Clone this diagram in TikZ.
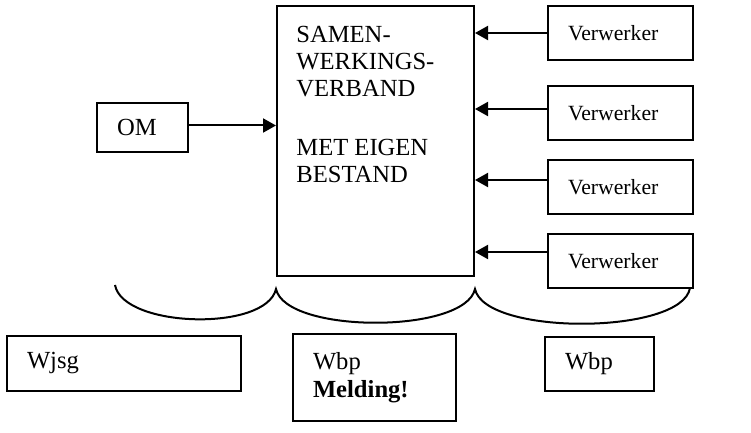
\documentclass[tikz,border=0pt]{standalone}
\usepackage{fontspec}
\setmainfont{Liberation Serif}
\usepackage{tikz}
\usetikzlibrary{arrows.meta,positioning}

\begin{document}
\begin{tikzpicture}[
  font=\fontsize{12.3}{14}\selectfont,
  box/.style={draw, line width=1pt, align=left, inner xsep=10pt, inner ysep=0pt},
  verwerker/.style={box, text width=52.5pt, minimum height=27pt, font=\fontsize{10.85}{13}\selectfont},
  arrow/.style={-{Triangle[length=6.5pt, width=7pt]}, line width=1pt},
  brace/.style={line width=1pt}
]
  \useasboundingbox (0,0) rectangle (375.5pt,-216.5pt);

  \node[box, minimum width=98.5pt, minimum height=135pt, inner xsep=0pt] (samen) at (187.75pt,-70.5pt) {};
  \node[align=left, anchor=north west, inner sep=0pt, font=\fontsize{12.3}{13.5}\selectfont] (samentext)
    at ([xshift=10pt, yshift=-10.5pt]samen.north west)
    {SAMEN-\\WERKINGS-\\VERBAND\\[16pt]MET EIGEN\\BESTAND};

  \node[box, text width=25.5pt, minimum height=24.5pt] (om) at (71.25pt,-63.75pt) {OM};

  \node[verwerker, below right=0pt and 36pt of samen.north east] (verw1) {Verwerker};
  \node[verwerker, below=12pt of verw1] (verw2) {Verwerker};
  \node[verwerker, below=9pt of verw2] (verw3) {Verwerker};
  \node[verwerker, below=9pt of verw3] (verw4) {Verwerker};

  \node[box, text width=97pt, minimum height=27.5pt] (wjsg) at (62pt,-181.75pt) {Wjsg};
  \node[box, text width=61.5pt, minimum height=43.5pt] (wbpmelding) at (187.25pt,-188.75pt) {Wbp\\\textbf{Melding!}};
  \node[box, text width=34.5pt, minimum height=27pt] (wbp) at (299.75pt,-182pt) {Wbp};

  \draw[arrow] ([yshift=1pt]om.east) -- ([yshift=1pt]om.east -| samen.west);
  \draw[arrow] (verw1.west) -- (verw1.west -| samen.east);
  \draw[arrow] ([yshift=2pt]verw2.west) -- ([yshift=2pt]verw2.west -| samen.east);
  \draw[arrow] ([yshift=3.5pt]verw3.west) -- ([yshift=3.5pt]verw3.west -| samen.east);
  \draw[arrow] ([yshift=4.5pt]verw4.west) -- ([yshift=4.5pt]verw4.west -| samen.east);

  % accolades onder de bovenste rij
  \coordinate (braceL) at (57.5pt,-142.5pt);
  \coordinate (cusp1) at ([yshift=-6pt]samen.south west);
  \coordinate (cusp2) at ([yshift=-6pt]samen.south east);
  \coordinate (braceR) at (345pt,-144pt);
  \draw[brace] (braceL) .. controls +(4pt,-21.5pt) and +(-5pt,-21.5pt) .. (cusp1)
                        .. controls +(5pt,-22.5pt) and +(-5pt,-22.5pt) .. (cusp2)
                        .. controls +(5pt,-23.5pt) and +(-4pt,-23.5pt) .. (braceR);
\end{tikzpicture}
\end{document}
